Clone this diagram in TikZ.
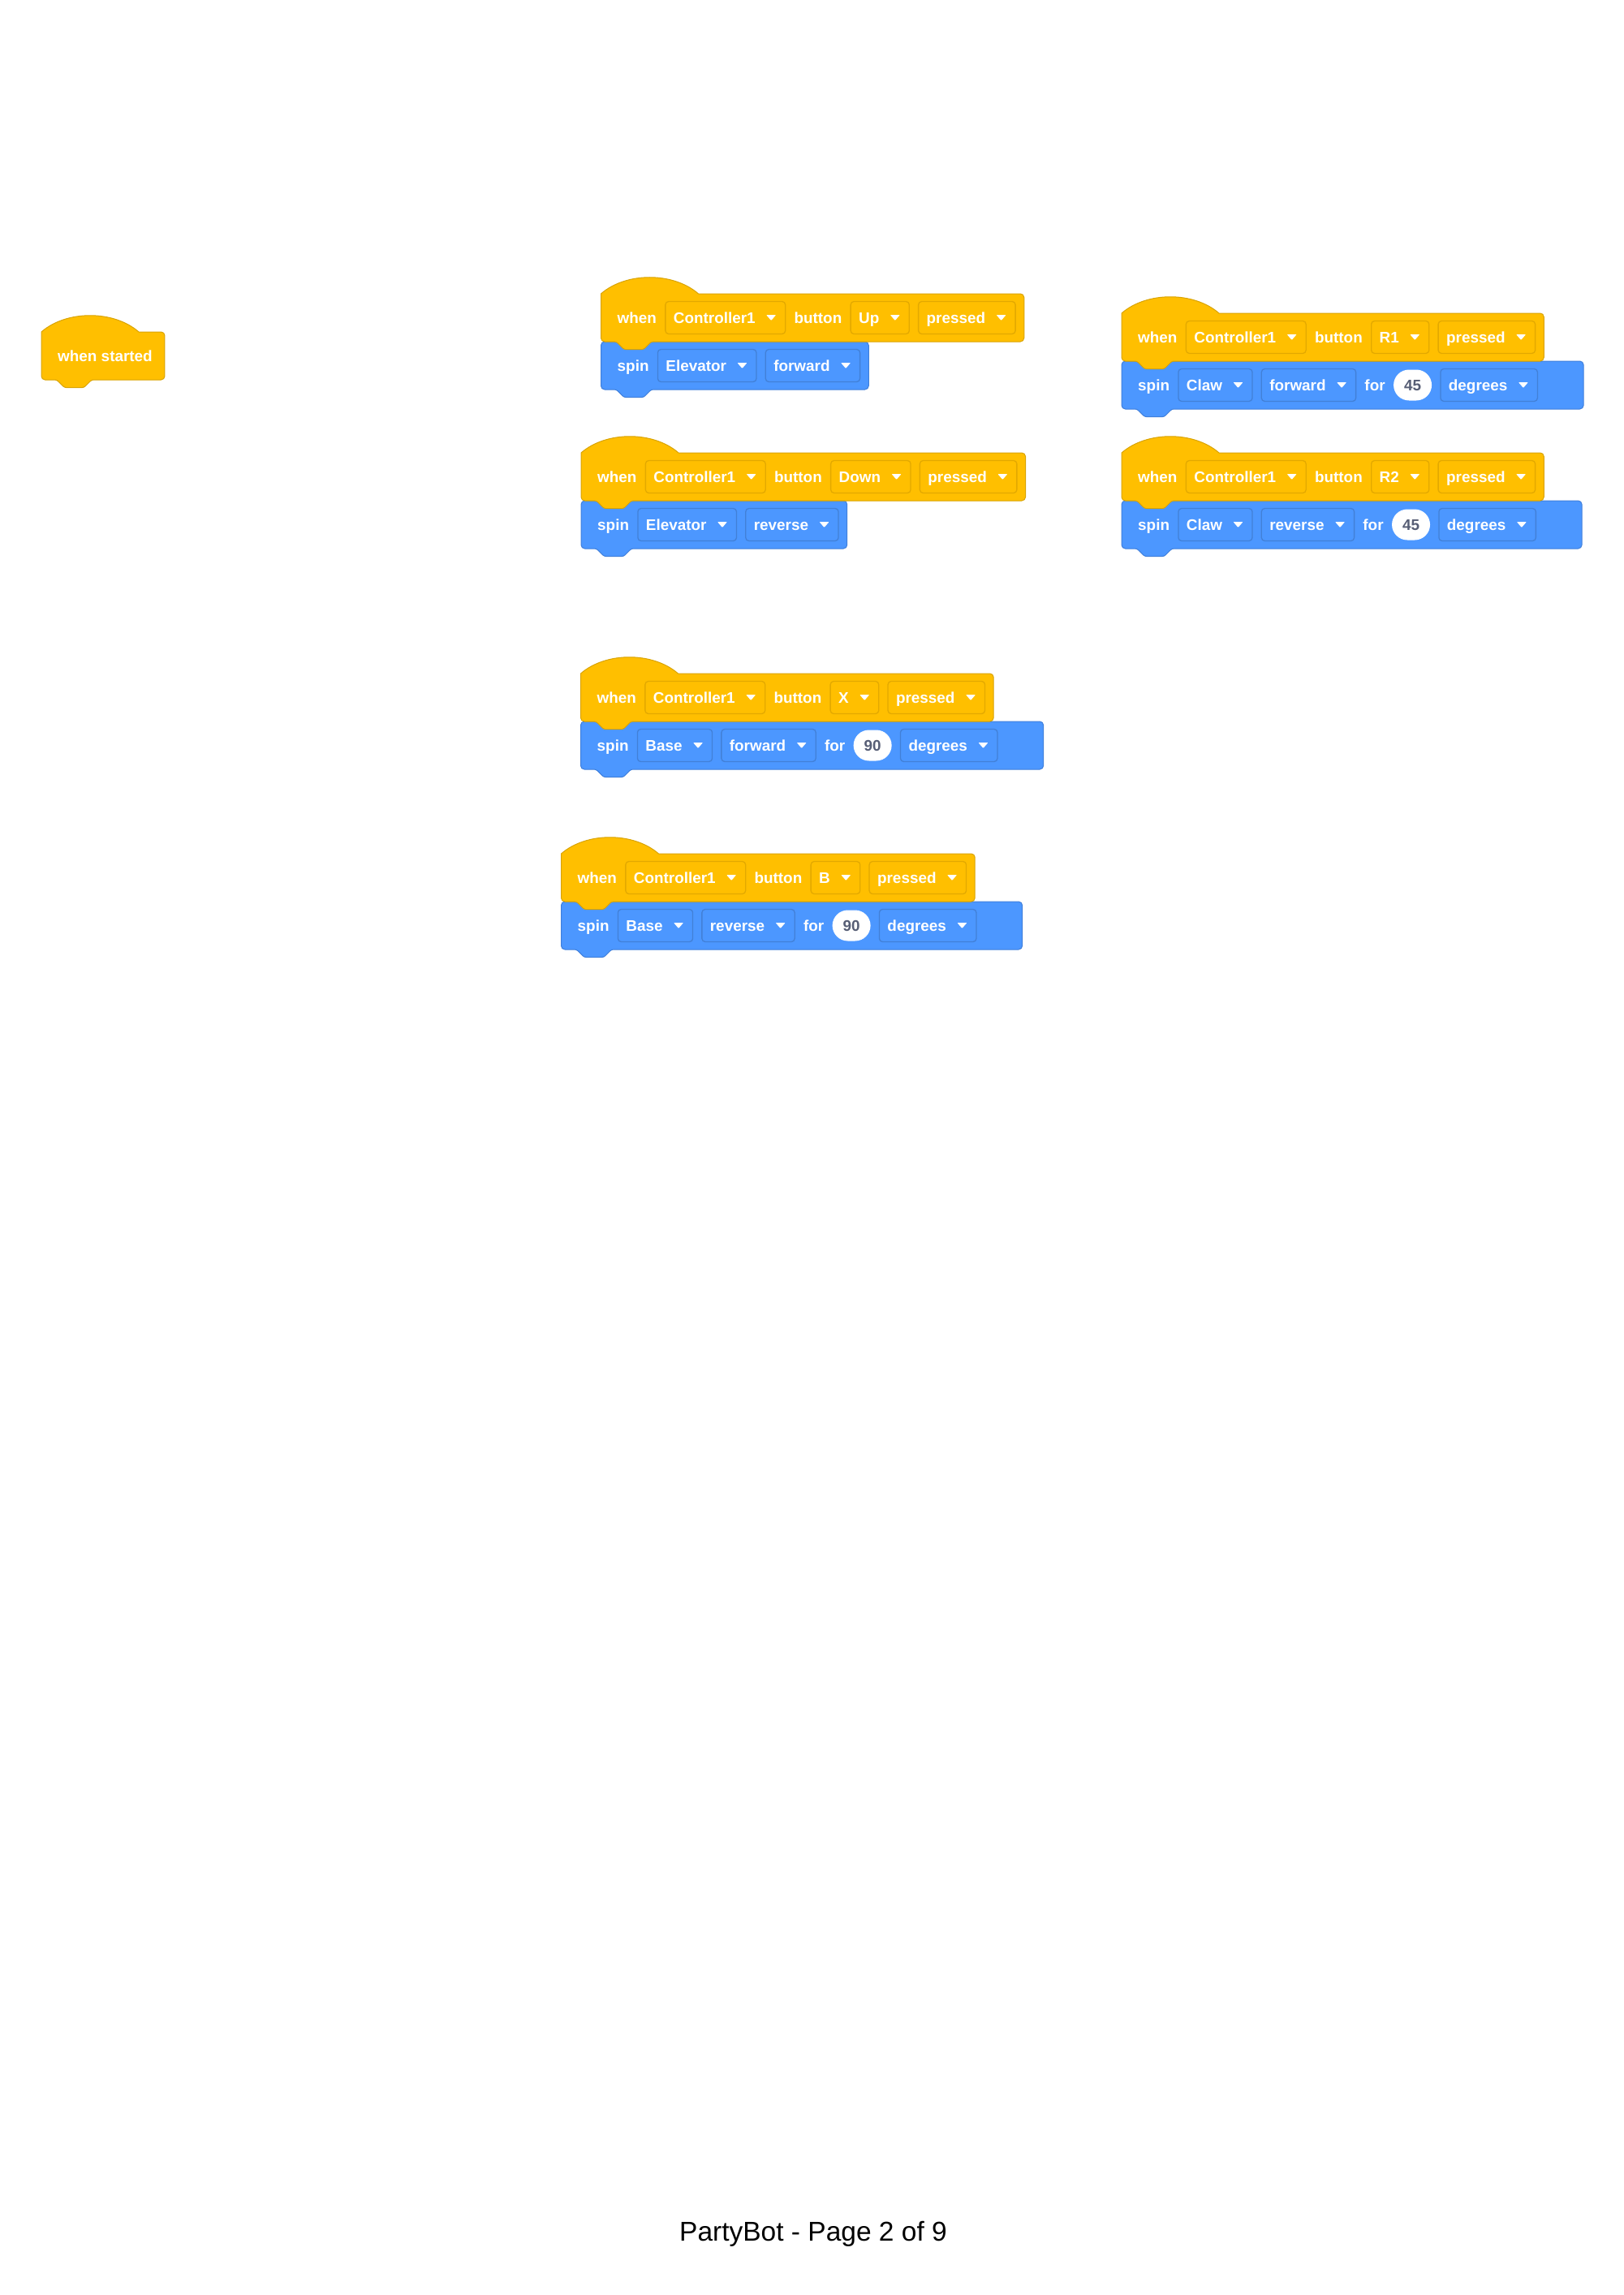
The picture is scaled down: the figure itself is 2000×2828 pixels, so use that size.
\documentclass[tikz,border=0pt]{standalone}
\usepackage{fontspec}
\setmainfont{Liberation Sans}
\usetikzlibrary{positioning,calc}

\definecolor{evYellow}{HTML}{FFBF00}
\definecolor{evEdge}{HTML}{D9A300}
\definecolor{evField}{HTML}{E3A900}
\definecolor{moBlue}{HTML}{4C97FF}
\definecolor{moEdge}{HTML}{3F7FDB}
\definecolor{moField}{HTML}{4280D7}
\definecolor{numGray}{HTML}{575E75}

\pgfdeclarelayer{paper}
\pgfdeclarelayer{bluelayer}
\pgfdeclarelayer{yellowlayer}
\pgfsetlayers{paper,bluelayer,yellowlayer,main}

\newcommand{\blkfont}{\fontsize{18.9pt}{23pt}\selectfont\bfseries}
\newcommand{\ddgap}{\hspace*{27pt}}

% hat block: #1 left x, #2 top of the flat part (downwards), #3 right-edge coordinate
\newcommand{\hatpath}[3]{%
  \begin{pgfonlayer}{yellowlayer}
  \path[hatblock] let \p1=(#3) in
    (#1,-#2) .. controls (#1+31,-#2+27) and (#1+89,-#2+27) .. (#1+120,-#2)
    -- (\x1-4.5,-#2) arc[start angle=90,end angle=0,radius=4.5pt]
    -- (\x1,-#2-54.5) arc[start angle=0,end angle=-90,radius=4.5pt]
    [rounded corners=2.4pt] -- (#1+62,-#2-59) -- (#1+52.4,-#2-68.6)
    -- (#1+28.4,-#2-68.6) -- (#1+18.8,-#2-59) [sharp corners]
    -- (#1+4.5,-#2-59) arc[start angle=270,end angle=180,radius=4.5pt] -- cycle;
  \end{pgfonlayer}}

% stack block: #1 left x, #2 top edge (downwards), #3 right-edge coordinate
\newcommand{\stackpath}[3]{%
  \begin{pgfonlayer}{bluelayer}
  \path[stackblock] let \p1=(#3) in
    (#1,-#2-4.5) arc[start angle=180,end angle=90,radius=4.5pt]
    -- (\x1-4.5,-#2) arc[start angle=90,end angle=0,radius=4.5pt]
    -- (\x1,-#2-54.5) arc[start angle=0,end angle=-90,radius=4.5pt]
    [rounded corners=2.4pt] -- (#1+62,-#2-59) -- (#1+52.4,-#2-68.6)
    -- (#1+28.4,-#2-68.6) -- (#1+18.8,-#2-59) [sharp corners]
    -- (#1+4.5,-#2-59) arc[start angle=270,end angle=180,radius=4.5pt] -- cycle;
  \end{pgfonlayer}}

\tikzset{
  lbl/.style={text=white, font=\blkfont, inner sep=0pt, text height=13.6pt,
    text depth=0pt, anchor=west},
  fld/.style={font=\blkfont, text=white, inner xsep=10pt, inner ysep=0pt,
    text height=13.6pt, text depth=0pt, minimum height=40pt,
    rounded corners=4pt, line width=1.3pt,
    path picture={\fill[white, rounded corners=0.8pt]
      ($(path picture bounding box.east)+(-23.5,3.5)$) -- ++(12,0) -- ++(-6,-7) -- cycle;}},
  fldY/.style={fld, fill=evYellow, draw=evField},
  fldB/.style={fld, fill=moBlue, draw=moField},
  numoval/.style={fill=white, text=numGray, font=\blkfont, inner sep=0pt,
    text height=13.6pt, text depth=0pt, minimum height=38pt, minimum width=47pt,
    rounded corners=19pt},
  hatblock/.style={fill=evYellow, draw=evEdge, line width=1pt},
  stackblock/.style={fill=moBlue, draw=moEdge, line width=1pt},
}

\begin{document}
\begin{tikzpicture}[x=1pt, y=1pt]
\begin{pgfonlayer}{paper}
  \fill[white] (0,0) rectangle (2000,-2828);
\end{pgfonlayer}
\useasboundingbox (0,0) rectangle (2000,-2828);

% ---- when started
\node[lbl] (ws-t) at (71,-438.5) {when started};
\coordinate (ws-r) at ($(ws-t.east)+(15,0)$);
\hatpath{51}{409}{ws-r}

% ---- Up -> Elevator forward
\node[lbl] (up-y1) at (760.5,-391.5) {when};
\node[fldY, right=10pt of up-y1] (up-y2) {Controller1\ddgap};
\node[lbl, right=10pt of up-y2] (up-y3) {button};
\node[fldY, right=10pt of up-y3] (up-y4) {Up\ddgap};
\node[fldY, right=10pt of up-y4] (up-y5) {pressed\ddgap};
\node[lbl] (up-b1) at (760.5,-450.5) {spin};
\node[fldB, right=10pt of up-b1] (up-b2) {Elevator\ddgap};
\node[fldB, right=10pt of up-b2] (up-b3) {forward\ddgap};
\coordinate (up-yr) at ($(up-y5.east)+(10,0)$);
\coordinate (up-br) at ($(up-b3.east)+(10,0)$);
\hatpath{740.5}{362}{up-yr}
\stackpath{740.5}{421}{up-br}

% ---- R1 -> Claw forward 45 degrees
\node[lbl] (ra-y1) at (1402,-415.5) {when};
\node[fldY, right=10pt of ra-y1] (ra-y2) {Controller1\ddgap};
\node[lbl, right=10pt of ra-y2] (ra-y3) {button};
\node[fldY, right=10pt of ra-y3] (ra-y4) {R1\ddgap};
\node[fldY, right=10pt of ra-y4] (ra-y5) {pressed\ddgap};
\node[lbl] (ra-b1) at (1402,-474.5) {spin};
\node[fldB, right=10pt of ra-b1] (ra-b2) {Claw\ddgap};
\node[fldB, right=10pt of ra-b2] (ra-b3) {forward\ddgap};
\node[lbl, right=10pt of ra-b3] (ra-b4) {for};
\node[numoval, right=10pt of ra-b4] (ra-b5) {45};
\node[fldB, right=10pt of ra-b5] (ra-b6) {degrees\ddgap};
\coordinate (ra-yr) at ($(ra-y5.east)+(10,0)$);
\coordinate (ra-br) at ($(ra-b6.east)+(56,0)$);
\hatpath{1382}{386}{ra-yr}
\stackpath{1382}{445}{ra-br}

% ---- Down -> Elevator reverse
\node[lbl] (dn-y1) at (736,-587.5) {when};
\node[fldY, right=10pt of dn-y1] (dn-y2) {Controller1\ddgap};
\node[lbl, right=10pt of dn-y2] (dn-y3) {button};
\node[fldY, right=10pt of dn-y3] (dn-y4) {Down\ddgap};
\node[fldY, right=10pt of dn-y4] (dn-y5) {pressed\ddgap};
\node[lbl] (dn-b1) at (736,-646.5) {spin};
\node[fldB, right=10pt of dn-b1] (dn-b2) {Elevator\ddgap};
\node[fldB, right=10pt of dn-b2] (dn-b3) {reverse\ddgap};
\coordinate (dn-yr) at ($(dn-y5.east)+(10,0)$);
\coordinate (dn-br) at ($(dn-b3.east)+(10,0)$);
\hatpath{716}{558}{dn-yr}
\stackpath{716}{617}{dn-br}

% ---- R2 -> Claw reverse 45 degrees
\node[lbl] (rb-y1) at (1402,-587.5) {when};
\node[fldY, right=10pt of rb-y1] (rb-y2) {Controller1\ddgap};
\node[lbl, right=10pt of rb-y2] (rb-y3) {button};
\node[fldY, right=10pt of rb-y3] (rb-y4) {R2\ddgap};
\node[fldY, right=10pt of rb-y4] (rb-y5) {pressed\ddgap};
\node[lbl] (rb-b1) at (1402,-646.5) {spin};
\node[fldB, right=10pt of rb-b1] (rb-b2) {Claw\ddgap};
\node[fldB, right=10pt of rb-b2] (rb-b3) {reverse\ddgap};
\node[lbl, right=10pt of rb-b3] (rb-b4) {for};
\node[numoval, right=10pt of rb-b4] (rb-b5) {45};
\node[fldB, right=10pt of rb-b5] (rb-b6) {degrees\ddgap};
\coordinate (rb-yr) at ($(rb-y5.east)+(10,0)$);
\coordinate (rb-br) at ($(rb-b6.east)+(56,0)$);
\hatpath{1382}{558}{rb-yr}
\stackpath{1382}{617}{rb-br}

% ---- X -> Base forward 90 degrees
\node[lbl] (bx-y1) at (735.5,-859.5) {when};
\node[fldY, right=10pt of bx-y1] (bx-y2) {Controller1\ddgap};
\node[lbl, right=10pt of bx-y2] (bx-y3) {button};
\node[fldY, right=10pt of bx-y3] (bx-y4) {X\ddgap};
\node[fldY, right=10pt of bx-y4] (bx-y5) {pressed\ddgap};
\node[lbl] (bx-b1) at (735.5,-918.5) {spin};
\node[fldB, right=10pt of bx-b1] (bx-b2) {Base\ddgap};
\node[fldB, right=10pt of bx-b2] (bx-b3) {forward\ddgap};
\node[lbl, right=10pt of bx-b3] (bx-b4) {for};
\node[numoval, right=10pt of bx-b4] (bx-b5) {90};
\node[fldB, right=10pt of bx-b5] (bx-b6) {degrees\ddgap};
\coordinate (bx-yr) at ($(bx-y5.east)+(10,0)$);
\coordinate (bx-br) at ($(bx-b6.east)+(56,0)$);
\hatpath{715.5}{830}{bx-yr}
\stackpath{715.5}{889}{bx-br}

% ---- B -> Base reverse 90 degrees
\node[lbl] (bb-y1) at (711.5,-1081.5) {when};
\node[fldY, right=10pt of bb-y1] (bb-y2) {Controller1\ddgap};
\node[lbl, right=10pt of bb-y2] (bb-y3) {button};
\node[fldY, right=10pt of bb-y3] (bb-y4) {B\ddgap};
\node[fldY, right=10pt of bb-y4] (bb-y5) {pressed\ddgap};
\node[lbl] (bb-b1) at (711.5,-1140.5) {spin};
\node[fldB, right=10pt of bb-b1] (bb-b2) {Base\ddgap};
\node[fldB, right=10pt of bb-b2] (bb-b3) {reverse\ddgap};
\node[lbl, right=10pt of bb-b3] (bb-b4) {for};
\node[numoval, right=10pt of bb-b4] (bb-b5) {90};
\node[fldB, right=10pt of bb-b5] (bb-b6) {degrees\ddgap};
\coordinate (bb-yr) at ($(bb-y5.east)+(10,0)$);
\coordinate (bb-br) at ($(bb-b6.east)+(56,0)$);
\hatpath{691.5}{1052}{bb-yr}
\stackpath{691.5}{1111}{bb-br}

% ---- page footer
\node[anchor=base, font=\fontsize{33.5pt}{40pt}\selectfont, inner sep=0pt]
  (footer) at (1002,-2761) {PartyBot - Page 2 of 9};
\end{tikzpicture}
\end{document}
